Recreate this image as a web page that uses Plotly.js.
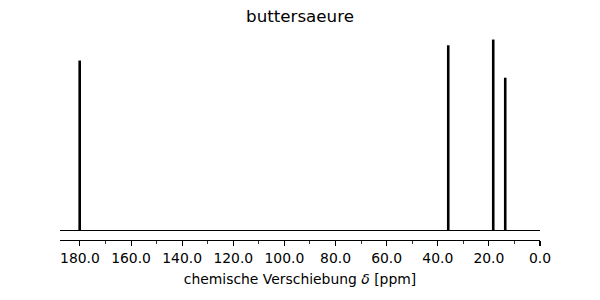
<!DOCTYPE html>
<html>
<head>
<meta charset="utf-8">
<script src="https://cdn.plot.ly/plotly-3.0.1.min.js"></script>
<style>html,body{margin:0;padding:0;background:#fff}#chart{width:600px;height:300px}</style>
</head>
<body>
<div id="chart"></div>
<script>
const shifts = [180.1, 35.9, 18.3, 13.6];
const intensities = [0.89, 0.97, 1.0, 0.80];
const tickVals = [180, 160, 140, 120, 100, 80, 60, 40, 20, 0];
const tickText = tickVals.map(v => v.toFixed(1));

const px = [], py = [];
shifts.forEach((s, i) => { px.push(s, s, null); py.push(0, intensities[i], null); });

const font = 'DejaVu Sans, sans-serif';
Plotly.newPlot('chart', [{
  x: px, y: py, type: 'scatter', mode: 'lines',
  line: {color: '#000', width: 2.6}, hoverinfo: 'skip', showlegend: false
}], {
  width: 600, height: 300,
  margin: {l: 60, r: 60, t: 30, b: 60},
  paper_bgcolor: '#fff', plot_bgcolor: '#fff',
  title: {text: 'buttersaeure', font: {family: font, size: 16.7, color: '#000'},
          x: 0.5, xanchor: 'center', y: 1 - 16/300, yanchor: 'middle', yref: 'container'},
  xaxis: {
    range: [187.8, 0], showgrid: false, zeroline: false,
    showline: true, linecolor: '#000', linewidth: 1.1, mirror: false,
    ticks: 'outside', ticklen: 5, tickwidth: 1.1, tickcolor: '#000',
    tickvals: tickVals, ticktext: tickText,
    tickfont: {family: font, size: 13.9, color: '#000'},
    minor: {ticks: 'outside', dtick: 10, tick0: 0, ticklen: 3, tickwidth: 0.8, tickcolor: '#000', showgrid: false},
    title: {text: 'chemische Verschiebung <i>δ</i> [ppm]', font: {family: font, size: 13.9, color: '#000'}, standoff: 9}
  },
  yaxis: {
    range: [-0.05, 1.05], showgrid: false, showline: false, showticklabels: false, ticks: '',
    zeroline: true, zerolinecolor: '#000', zerolinewidth: 1.3
  }
}, {displayModeBar: false, staticPlot: true});
</script>
</body>
</html>
